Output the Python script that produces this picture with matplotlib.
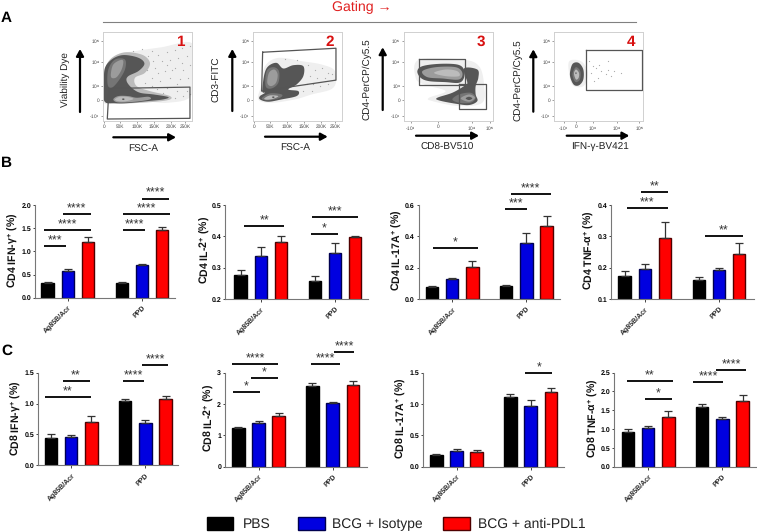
import numpy as np
import matplotlib
matplotlib.use('Agg')
import matplotlib.pyplot as plt
from matplotlib.patches import Rectangle

plt.rcParams['font.family'] = ['Liberation Sans', 'DejaVu Sans']
plt.rcParams['mathtext.fontset'] = 'custom'
plt.rcParams['mathtext.rm'] = 'Liberation Sans:bold'
plt.rcParams['mathtext.bf'] = 'Liberation Sans:bold'
plt.rcParams['mathtext.it'] = 'Liberation Sans:bold'
plt.rcParams['mathtext.default'] = 'rm'
plt.rcParams['text.hinting'] = 'none'

W, H = 757, 532

# Bar data
groups = ['Ag85B/Acr', 'PPD']
treatments = ['PBS', 'BCG + Isotype', 'BCG + anti-PDL1']
bar_colors = ['#000000', '#0000e0', '#ff0000']
edge_colors = ['#000000', '#000050', '#500000']

cd4_ifn = [0.32, 0.58, 1.21, 0.31, 0.70, 1.46]
cd4_ifn_err = [0.02, 0.04, 0.11, 0.02, 0.02, 0.07]
cd4_il2 = [0.278, 0.338, 0.381, 0.257, 0.346, 0.397]
cd4_il2_err = [0.013, 0.028, 0.021, 0.018, 0.034, 0.005]
cd4_il17 = [0.078, 0.127, 0.205, 0.08, 0.355, 0.465]
cd4_il17_err = [0.007, 0.005, 0.038, 0.012, 0.065, 0.065]
cd4_tnf = [0.173, 0.197, 0.295, 0.16, 0.193, 0.245]
cd4_tnf_err = [0.015, 0.015, 0.052, 0.011, 0.005, 0.033]
cd8_ifn = [0.45, 0.46, 0.70, 1.04, 0.69, 1.07]
cd8_ifn_err = [0.05, 0.03, 0.10, 0.03, 0.04, 0.06]
cd8_il2 = [1.22, 1.40, 1.62, 2.59, 2.03, 2.61]
cd8_il2_err = [0.04, 0.05, 0.10, 0.07, 0.04, 0.12]
cd8_il17 = [0.18, 0.25, 0.235, 1.11, 0.97, 1.19]
cd8_il17_err = [0.02, 0.04, 0.025, 0.05, 0.10, 0.07]
cd8_tnf = [0.91, 1.02, 1.32, 1.60, 1.27, 1.75]
cd8_tnf_err = [0.08, 0.05, 0.15, 0.07, 0.06, 0.15]

# Significance lines: x start, x end (in bar positions), y value, stars
sig_cd4_ifn = [(-0.17, 0.9, 1.11, '***'), (-0.17, 2.15, 1.45, '****'), (0.77, 2.12, 1.80, '****'),
               (3.73, 4.82, 1.45, '****'), (3.73, 6.05, 1.80, '****'), (4.67, 6.0, 2.14, '****')]
sig_cd4_il2 = [(0.18, 2.16, 0.434, '**'), (3.5, 4.8, 0.407, '*'), (3.53, 5.82, 0.463, '***')]
sig_cd4_il17 = [(0.03, 2.3, 0.326, '*'), (3.62, 4.69, 0.572, '***'), (3.92, 5.87, 0.672, '****')]
sig_cd4_tnf = [(0.12, 2.12, 0.391, '***'), (0.81, 2.12, 0.44, '**'), (3.98, 5.85, 0.301, '**')]
sig_cd8_ifn = [(-0.32, 1.98, 1.106, '**'), (0.58, 1.91, 1.365, '**'), (3.55, 4.62, 1.365, '****'),
               (4.5, 5.8, 1.624, '****')]
sig_cd8_il2 = [(-0.28, 1.06, 2.38, '*'), (0.64, 1.97, 2.82, '*'), (-0.31, 1.97, 3.27, '****'),
               (3.59, 5.02, 3.28, '****'), (4.73, 5.75, 3.65, '****')]
sig_cd8_il17 = [(4.41, 5.74, 1.495, '*')]
sig_cd8_tnf = [(-0.05, 2.23, 2.28, '**'), (0.84, 2.18, 1.81, '*'), (3.24, 4.71, 2.24, '****'),
               (4.38, 5.83, 2.58, '****')]

bar_x = np.array([0, 1, 2, 3.67, 4.67, 5.67])
group_x = [1, 4.67]

fig = plt.figure(figsize=(W / 100, H / 100), dpi=100)
fig.patch.set_facecolor('white')


def px_axes(left, right, top, bottom):
    return fig.add_axes([left / W, 1 - bottom / H, (right - left) / W, (bottom - top) / H])


def bar_panel(vals, errs, sig, ylab, yticks, ytick_fmt, box, first, lab_x, lab_y):
    left, right, top, bottom = box
    step = 20.2
    ax = px_axes(left, right, top, bottom)
    ax.patch.set_alpha(0)
    for i in range(6):
        c = i % 3
        ax.bar(bar_x[i], vals[i], width=0.62, color=bar_colors[c], edgecolor=edge_colors[c],
               linewidth=1.0, bottom=0)
        ax.errorbar(bar_x[i], vals[i], yerr=[[0], [errs[i]]], color='#333333', elinewidth=0.9,
                    capsize=2.8, capthick=0.9)
    ax.set_xlim((left - first) / step, (right - first) / step)
    ax.set_ylim(yticks[0], yticks[-1])
    ax.set_yticks(yticks)
    ax.set_yticklabels([ytick_fmt % t for t in yticks], fontsize=5, fontweight='bold')
    ax.set_xticks(group_x)
    ax.set_xticklabels(groups, rotation=45, ha='right', rotation_mode='anchor',
                       fontsize=5, fontweight='bold', color='#222222')
    ax.tick_params(axis='both', length=1.8, width=0.7, pad=1, color='#444444')
    ax.tick_params(axis='x', pad=3)
    for s in ['top', 'right']:
        ax.spines[s].set_visible(False)
    for s in ['left', 'bottom']:
        ax.spines[s].set_linewidth(0.8)
        ax.spines[s].set_color('#777777')
    for x0, x1, y, stars in sig:
        ax.plot([x0, x1], [y, y], color='#111111', lw=1.4, clip_on=False, solid_capstyle='butt')
        ax.annotate(stars, xy=((x0 + x1) / 2, y), xytext=(0, 1.2), textcoords='offset points',
                    ha='center', va='baseline', fontsize=9, color='#333333',
                    annotation_clip=False)
    over.text(lab_x, lab_y, ylab, rotation=90, ha='center', va='center', fontsize=7.6,
              fontweight='bold', color='#111111')
    return ax


# Overlay in picture pixels for the labels, arrows and legend
over = fig.add_axes([0, 0, 1, 1], zorder=5)
over.set_xlim(0, W)
over.set_ylim(H, 0)
over.axis('off')
over.patch.set_alpha(0)

lab_ifn = r'CD%d IFN-$\gamma^{+}$ (%%)'
lab_il2 = r'CD%d IL-2$^{+}$ (%%)'
lab_il17 = r'CD%d IL-17A$^{+}$ (%%)'
lab_tnf = r'CD%d TNF-$\alpha^{+}$ (%%)'

bar_panel(cd4_ifn, cd4_ifn_err, sig_cd4_ifn, lab_ifn % 4, [0, 0.5, 1.0, 1.5, 2.0], '%.1f',
          (35, 175, 205, 297.7), 47.7, 12.7, 250)
bar_panel(cd4_il2, cd4_il2_err, sig_cd4_il2, lab_il2 % 4, [0.2, 0.3, 0.4, 0.5], '%.1f',
          (225, 368, 205, 299), 240.7, 205, 250)
bar_panel(cd4_il17, cd4_il17_err, sig_cd4_il17, lab_il17 % 4, [0, 0.2, 0.4, 0.6], '%.1f',
          (418.7, 560, 205, 299), 432, 397, 250)
bar_panel(cd4_tnf, cd4_tnf_err, sig_cd4_tnf, lab_tnf % 4, [0.1, 0.2, 0.3, 0.4], '%.1f',
          (611, 753.7, 205, 299), 624.7, 589, 250)
bar_panel(cd8_ifn, cd8_ifn_err, sig_cd8_ifn, lab_ifn % 8, [0, 0.5, 1.0, 1.5], '%.1f',
          (38.3, 178, 372.7, 465.3), 51, 16, 418)
bar_panel(cd8_il2, cd8_il2_err, sig_cd8_il2, lab_il2 % 8, [0, 1, 2, 3], '%d',
          (225, 366.7, 372.7, 466.7), 238.3, 208.3, 418)
bar_panel(cd8_il17, cd8_il17_err, sig_cd8_il17, lab_il17 % 8, [0, 0.5, 1.0, 1.5], '%.1f',
          (423, 564.3, 372.7, 466.7), 436.3, 401, 418)
bar_panel(cd8_tnf, cd8_tnf_err, sig_cd8_tnf, lab_tnf % 8, [0, 0.5, 1.0, 1.5, 2.0, 2.5], '%.1f',
          (614.3, 756.5, 372.7, 466.7), 628, 593, 418)


# Flow plots: shapes traced by eye, in units of 1/3 pixel inside each frame
def smooth(points, n=8):
    # closed Catmull-Rom curve through the traced points
    p = np.array(points, dtype=float)
    out = []
    for i in range(len(p)):
        p0, p1, p2, p3 = p[i - 1], p[i], p[(i + 1) % len(p)], p[(i + 2) % len(p)]
        for t in np.linspace(0, 1, n, endpoint=False):
            out.append(0.5 * (2 * p1 + (p2 - p0) * t + (2 * p0 - 5 * p1 + 4 * p2 - p3) * t ** 2
                              + (3 * p1 - p0 - 3 * p2 + p3) * t ** 3))
    return np.array(out)


G1, G2, G3, G4, G5, G6 = '#efefef', '#c4c4c4', '#565656', '#757575', '#9c9c9c', '#bcbcbc'

flow1 = [
    (G1, [(25, 222), (28, 150), (40, 105), (80, 78), (130, 68), (200, 58), (290, 45), (292, 120),
          (288, 205), (220, 225), (150, 222), (60, 228)]),
    (G6, [(30, 190), (35, 110), (80, 75), (140, 80), (165, 105), (150, 135), (120, 150), (125, 175),
          (165, 190), (225, 205), (215, 218), (120, 226), (40, 225)]),
    (G3, [(28, 220), (27, 160), (30, 120), (50, 95), (80, 82), (115, 85), (140, 95), (148, 110),
          (130, 130), (100, 145), (95, 160), (110, 180), (135, 195), (175, 200), (220, 208),
          (205, 215), (160, 220), (100, 226), (60, 226)]),
    (G4, [(38, 170), (40, 125), (60, 95), (90, 95), (90, 125), (70, 160), (50, 180)]),
    (G5, [(48, 135), (55, 110), (75, 97), (85, 100), (80, 125), (65, 148), (50, 150)]),
    (G5, [(55, 215), (70, 205), (100, 205), (125, 210), (160, 207), (165, 215), (120, 222), (70, 224)]),
    (G6, [(60, 215), (75, 207), (100, 208), (115, 214), (90, 221), (68, 220)]),
    (G3, [(81, 214), (85, 212), (89, 214), (85, 217)]),
]
gate1 = [[(42, 182), (285, 178), (285, 272), (37, 274)]]
dots1 = [(170, 70), (190, 80), (215, 72), (240, 65), (262, 60), (285, 55), (200, 100), (225, 95), (250, 90),
         (275, 85), (180, 120), (210, 130), (240, 120), (265, 125), (285, 110), (170, 150), (195, 160),
         (225, 150), (255, 155), (280, 150), (150, 165), (185, 185), (215, 180), (245, 190), (275, 190),
         (240, 210), (265, 205), (285, 200), (115, 70), (140, 62), (160, 85), (175, 100), (155, 125),
         (190, 135), (170, 175), (205, 195), (230, 125), (215, 110), (260, 105), (245, 170)]

flow2 = [
    (G1, [(40, 215), (50, 170), (60, 115), (100, 90), (170, 100), (230, 110), (270, 130), (265, 180),
          (200, 200), (150, 215), (80, 225)]),
    (G3, [(52, 190), (58, 140), (70, 115), (95, 105), (115, 122), (145, 112), (175, 115), (175, 145),
          (155, 170), (130, 185), (160, 190), (155, 205), (110, 215), (70, 222), (45, 215), (45, 205),
          (60, 195)]),
    (G4, [(62, 175), (65, 130), (85, 118), (102, 130), (100, 165), (80, 182)]),
    (G5, [(67, 165), (72, 135), (88, 125), (98, 140), (93, 165), (78, 175)]),
    (G4, [(50, 212), (75, 197), (110, 200), (105, 210), (70, 218)]),
    (G6, [(58, 212), (75, 203), (100, 205), (85, 213), (65, 216)]),
    (G3, [(81, 208), (85, 206), (89, 208), (85, 211)]),
]
gate2 = [[(53, 73), (273, 61), (273, 157), (50, 190)]]
dots2 = [(190, 110), (210, 125), (230, 120), (250, 135), (195, 145), (215, 150), (240, 150), (260, 140),
         (185, 170), (205, 170), (225, 175), (250, 170), (175, 190), (200, 190), (155, 95), (120, 92)]

flow3 = [
    (G1, [(60, 150), (70, 95), (200, 95), (250, 115), (265, 170), (260, 225), (190, 235), (110, 220),
          (100, 210), (150, 190), (85, 170)]),
    (G3, [(205, 122), (245, 125), (248, 150), (240, 175), (240, 200), (245, 220), (220, 232), (180, 228),
          (130, 218), (125, 210), (170, 195), (205, 175), (215, 165)]),
    (G3, [(65, 130), (80, 115), (130, 108), (185, 110), (205, 125), (205, 150), (190, 165), (150, 163),
          (100, 160), (75, 150)]),
    (G5, [(80, 130), (120, 118), (180, 118), (200, 135), (190, 155), (140, 152), (95, 148)]),
    (G6, [(115, 135), (150, 125), (185, 130), (190, 145), (150, 145)]),
    (G4, [(170, 215), (190, 200), (225, 195), (240, 210), (225, 225), (190, 225)]),
    (G5, [(195, 212), (220, 200), (238, 210), (220, 222)]),
    (G3, [(210, 212), (220, 207), (230, 212), (220, 217)]),
]
gate3 = [[(71, 92), (209, 92), (209, 171), (71, 171)], [(190, 170), (270, 170), (270, 245), (190, 245)]]
dots3 = []

flow4 = [
    (G1, [(70, 100), (105, 100), (125, 130), (120, 165), (105, 178), (80, 172), (70, 140)]),
    (G3, [(72, 135), (80, 108), (98, 105), (112, 125), (112, 155), (100, 172), (85, 172), (75, 155)]),
    (G4, [(80, 135), (90, 118), (103, 130), (102, 155), (90, 163), (82, 152)]),
    (G6, [(84, 137), (90, 125), (99, 135), (98, 150), (90, 155)]),
    (G3, [(88, 136), (90, 133), (92, 136), (90, 139)]),
]
gate4 = [[(121, 67), (289, 67), (289, 187), (121, 187)]]
dots4 = [(130, 100), (150, 120), (165, 130), (185, 125), (205, 130), (225, 135), (155, 150), (180, 140),
         (195, 145), (140, 115), (135, 135), (160, 110), (185, 100), (145, 160)]

y_pos = [38, 103, 174, 218, 264]
y_labs = ['10$^5$', '10$^4$', '10$^3$', '0', '-10$^3$']
fsc_pos = [28, 75, 126, 177, 228, 270]
fsc_labs = ['0', '50K', '100K', '150K', '200K', '250K']
cd8_pos = [45, 127, 228, 282]
cd8_labs = ['-10$^4$', '0', '10$^4$', '10$^5$']
ifn_pos = [53, 90, 140, 213, 280]
ifn_labs = ['-10$^3$', '0', '10$^3$', '10$^4$', '10$^5$']


def flow_panel(left, shapes, gates, dots, xpos, xlabs, number):
    ax = px_axes(left, left + 89, 32.3, 121)
    ax.set_xlim(25, 292)
    ax.set_ylim(280, 13)
    for col, pts in shapes:
        s = smooth(pts)
        ax.fill(s[:, 0], s[:, 1], color=col, lw=0)
    if dots:
        d = np.array(dots)
        ax.scatter(d[:, 0], d[:, 1], s=0.8, color='#aaaaaa', lw=0)
    for g in gates:
        g = np.array(g + [g[0]])
        ax.plot(g[:, 0], g[:, 1], color='#555555', lw=0.9)
    ax.set_xticks(xpos)
    ax.set_xticklabels(xlabs, fontsize=3.4, color='#444444')
    ax.set_yticks(y_pos)
    ax.set_yticklabels(y_labs, fontsize=3.4, color='#444444')
    ax.tick_params(length=1.5, width=0.4, pad=1, color='#555555')
    for s in ax.spines.values():
        s.set_color('#d0d0d0')
        s.set_linewidth(0.7)
    ax.text(0.86, 0.89, number, transform=ax.transAxes, color='#d81010', fontsize=11,
            fontweight='bold', ha='center', va='center')


flow_panel(103.3, flow1, gate1, dots1, fsc_pos, fsc_labs, '1')
flow_panel(253.3, flow2, gate2, dots2, fsc_pos, fsc_labs, '2')
flow_panel(404, flow3, gate3, dots3, cd8_pos, cd8_labs, '3')
flow_panel(554.3, flow4, gate4, dots4, ifn_pos, ifn_labs, '4')


def arrow(x0, y0, x1, y1):
    over.annotate('', xy=(x1, y1), xytext=(x0, y0),
                  arrowprops=dict(arrowstyle='-|>,head_width=0.22,head_length=0.4', color='black',
                                  lw=1.6, shrinkA=0, shrinkB=0))


arrow(80, 112, 80, 49)
arrow(113.3, 137.3, 176, 137.3)
arrow(232.3, 111, 232.3, 49)
arrow(265, 136.7, 327.7, 136.7)
arrow(382.7, 110, 382.7, 47.3)
arrow(416, 135.7, 479, 135.7)
arrow(533.3, 111.7, 533.3, 49.3)
arrow(566.7, 135.7, 629.3, 135.7)

txt = dict(ha='center', va='center', fontsize=7.2, color='#222222')
over.text(65, 80, 'Viability Dye', rotation=90, **txt)
over.text(143.3, 149, 'FSC-A', **txt)
over.text(216.7, 79, 'CD3-FITC', rotation=90, **txt)
over.text(295.3, 148.7, 'FSC-A', **txt)
over.text(366.7, 78.7, 'CD4-PerCP/Cy5.5', rotation=90, **txt)
over.text(447, 147, 'CD8-BV510', **txt)
over.text(517.7, 80, 'CD4-PerCP/Cy5.5', rotation=90, **txt)
over.text(599.7, 147, 'IFN-γ-BV421', **txt)

over.text(361.5, 7, 'Gating →', color='#e02020', fontsize=10.2, ha='center', va='center')
over.plot([103, 636], [22.3, 22.3], color='#808080', lw=0.8)

for letter, ly in zip('ABC', [18, 163, 351]):
    over.text(1, ly, letter, fontsize=11, fontweight='bold', ha='left', va='center')

# Legend
box_x = [206.7, 298.3, 443]
text_x = [242.7, 331.7, 478]
for i in range(3):
    over.add_patch(Rectangle((box_x[i], 516.7), 26.5, 13.3, facecolor=bar_colors[i],
                             edgecolor=edge_colors[i], lw=1))
    over.text(text_x[i], 524, treatments[i], fontsize=10, ha='left', va='center', color='#222222')

fig.savefig('out.png', dpi=100)
